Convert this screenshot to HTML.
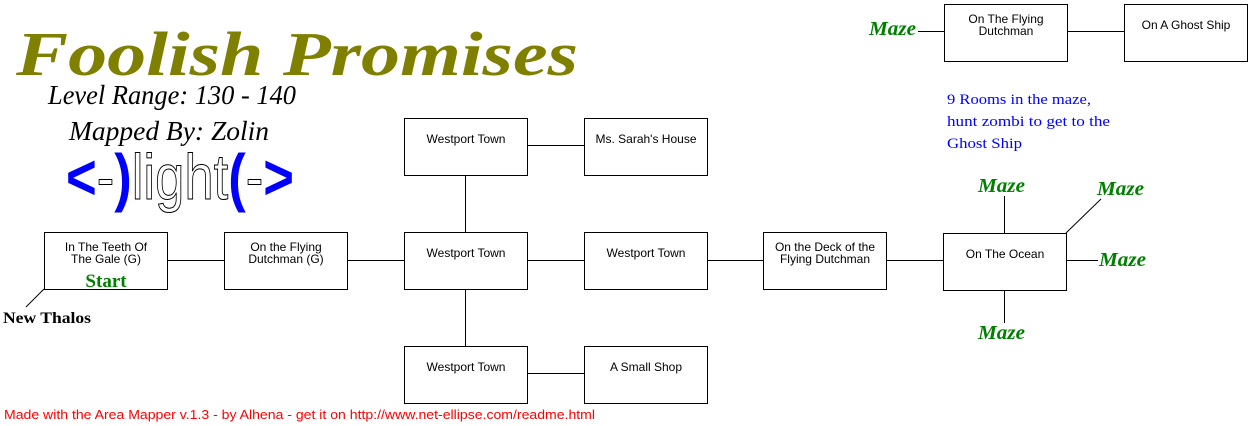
<!DOCTYPE html>
<html><head><meta charset="utf-8"><style>
html,body{margin:0;padding:0;background:#fff;width:1253px;height:426px;overflow:hidden}
svg{display:block}
.b{fill:#fff;stroke:#000;stroke-width:1}
.t{font-family:"Liberation Sans",sans-serif;font-size:12px;fill:#000;text-anchor:middle}
.m{font-family:"Liberation Serif",serif;font-style:italic;font-weight:bold;font-size:20px;fill:#008000}
</style></head><body>
<svg width="1253" height="426" xmlns="http://www.w3.org/2000/svg">
<g stroke="#000" stroke-width="1" fill="none">
<line x1="167" y1="260.5" x2="224" y2="260.5"/>
<line x1="347" y1="260.5" x2="404" y2="260.5"/>
<line x1="527" y1="260.5" x2="584" y2="260.5"/>
<line x1="707" y1="260.5" x2="763" y2="260.5"/>
<line x1="886" y1="260.5" x2="943" y2="260.5"/>
<line x1="527" y1="145.5" x2="584" y2="145.5"/>
<line x1="527" y1="373.5" x2="584" y2="373.5"/>
<line x1="465.5" y1="175" x2="465.5" y2="232"/>
<line x1="465.5" y1="289" x2="465.5" y2="346"/>
<line x1="1067" y1="31.5" x2="1124" y2="31.5"/>
<line x1="918" y1="31.5" x2="944" y2="31.5"/>
<line x1="1004.5" y1="196" x2="1004.5" y2="233"/>
<line x1="1004.5" y1="290" x2="1004.5" y2="323"/>
<line x1="1066" y1="260.5" x2="1098" y2="260.5"/>
<line x1="1066" y1="233" x2="1101" y2="199"/>
<line x1="44" y1="289" x2="26" y2="307"/>
</g>
<rect class="b" x="44.5" y="232.5" width="123" height="57"/>
<rect class="b" x="224.5" y="232.5" width="123" height="57"/>
<rect class="b" x="404.5" y="232.5" width="123" height="57"/>
<rect class="b" x="584.5" y="232.5" width="123" height="57"/>
<rect class="b" x="763.5" y="232.5" width="123" height="57"/>
<rect class="b" x="943.5" y="233.5" width="123" height="57"/>
<rect class="b" x="404.5" y="118.5" width="123" height="57"/>
<rect class="b" x="584.5" y="118.5" width="123" height="57"/>
<rect class="b" x="404.5" y="346.5" width="123" height="57"/>
<rect class="b" x="584.5" y="346.5" width="123" height="57"/>
<rect class="b" x="944.5" y="4.5" width="123" height="57"/>
<rect class="b" x="1124.5" y="4.5" width="123" height="57"/>
<text class="t" x="106" y="251">In The Teeth Of</text>
<text class="t" x="106" y="263">The Gale (G)</text>
<text x="106" y="287" text-anchor="middle" font-family="Liberation Serif,serif" font-weight="bold" font-size="19" fill="#008000">Start</text>
<text class="t" x="286" y="251">On the Flying</text>
<text class="t" x="286" y="263">Dutchman (G)</text>
<text class="t" x="466" y="257">Westport Town</text>
<text class="t" x="646" y="257">Westport Town</text>
<text class="t" x="825" y="251">On the Deck of the</text>
<text class="t" x="825" y="263">Flying Dutchman</text>
<text class="t" x="1005" y="258">On The Ocean</text>
<text class="t" x="466" y="143">Westport Town</text>
<text class="t" x="646" y="143">Ms. Sarah's House</text>
<text class="t" x="466" y="371">Westport Town</text>
<text class="t" x="646" y="371">A Small Shop</text>
<text class="t" x="1006" y="23">On The Flying</text>
<text class="t" x="1006" y="35">Dutchman</text>
<text class="t" x="1186" y="29">On A Ghost Ship</text>
<text x="3" y="323" font-family="Liberation Serif,serif" font-weight="bold" font-size="16" fill="#000" textLength="88" lengthAdjust="spacingAndGlyphs">New Thalos</text>
<text class="m" x="869" y="35" textLength="47" lengthAdjust="spacingAndGlyphs">Maze</text>
<text class="m" x="978" y="192" textLength="47" lengthAdjust="spacingAndGlyphs">Maze</text>
<text class="m" x="1097" y="195" textLength="47" lengthAdjust="spacingAndGlyphs">Maze</text>
<text class="m" x="1099" y="266" textLength="47" lengthAdjust="spacingAndGlyphs">Maze</text>
<text class="m" x="978" y="339" textLength="47" lengthAdjust="spacingAndGlyphs">Maze</text>
<g font-family="Liberation Serif,serif" font-size="15" fill="#0000ff">
<text x="947" y="104" textLength="144" lengthAdjust="spacingAndGlyphs">9 Rooms in the maze,</text>
<text x="947" y="126" textLength="163" lengthAdjust="spacingAndGlyphs">hunt zombi to get to the</text>
<text x="947" y="148" textLength="75" lengthAdjust="spacingAndGlyphs">Ghost Ship</text>
</g>
<text x="16" y="75" font-family="Liberation Serif,serif" font-style="italic" font-weight="bold" font-size="62" fill="#808000" textLength="562" lengthAdjust="spacingAndGlyphs">Foolish Promises</text>
<text x="48" y="104" font-family="Liberation Serif,serif" font-style="italic" font-size="27" fill="#000" textLength="248" lengthAdjust="spacingAndGlyphs">Level Range: 130 - 140</text>
<text x="69" y="140" font-family="Liberation Serif,serif" font-style="italic" font-size="27" fill="#000" textLength="200" lengthAdjust="spacingAndGlyphs">Mapped By: Zolin</text>
<text x="66" y="199" font-family="Liberation Sans,sans-serif" font-size="64" textLength="228" lengthAdjust="spacingAndGlyphs"><tspan fill="#0000ff" font-weight="bold">&lt;</tspan><tspan fill="#fff" stroke="#000" stroke-width="1">-</tspan><tspan fill="#0000ff" font-weight="bold">)</tspan><tspan fill="#fff" stroke="#000" stroke-width="1">light</tspan><tspan fill="#0000ff" font-weight="bold">(</tspan><tspan fill="#fff" stroke="#000" stroke-width="1">-</tspan><tspan fill="#0000ff" font-weight="bold">&gt;</tspan></text>
<text x="4" y="419" font-family="Liberation Sans,sans-serif" font-size="13" fill="#ff0000" textLength="591" lengthAdjust="spacingAndGlyphs">Made with the Area Mapper v.1.3 - by Alhena - get it on http://www.net-ellipse.com/readme.html</text>
</svg>
</body></html>
